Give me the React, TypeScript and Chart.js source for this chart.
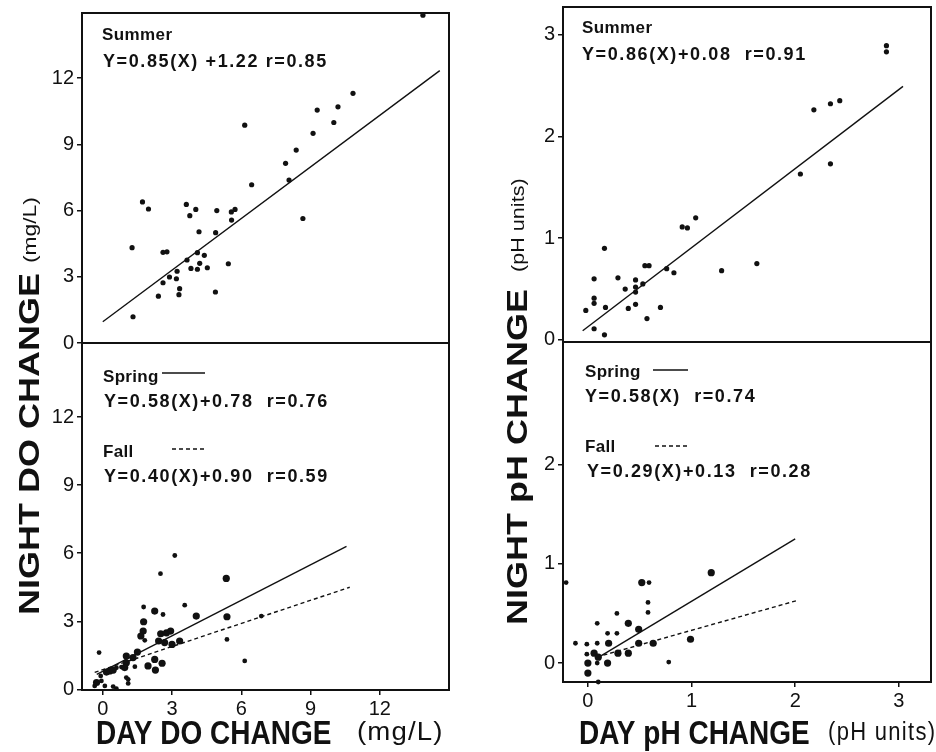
import React, { useEffect, useRef } from "react";
import { Chart, registerables } from "chart.js";

Chart.register(...registerables);

const FONT = "'Liberation Sans', Arial, Helvetica, sans-serif";

// ---------------- DO panels (mg/L) ----------------
const doSummerX = [13.87, 10.84, 9.29, 10.19, 10.01, 9.11, 6.15, 8.38, 7.92, 8.07, 6.45, 8.67, 1.72, 1.98, 3.62, 4.03, 3.77, 4.94, 5.57, 5.73, 5.58, 4.17, 4.89, 1.27, 2.61, 2.78, 4.1, 4.4, 3.65, 4.2, 3.82, 4.1, 4.53, 5.44, 3.22, 2.89, 3.19, 2.61, 3.33, 3.3, 4.88, 2.41, 1.31];
const doSummerY = [14.85, 11.31, 10.55, 10.7, 9.99, 9.5, 9.87, 8.74, 8.14, 7.38, 7.17, 5.64, 6.39, 6.07, 6.28, 6.05, 5.77, 6.0, 5.94, 6.05, 5.57, 5.04, 5.0, 4.32, 4.11, 4.13, 4.09, 3.97, 3.76, 3.61, 3.38, 3.34, 3.41, 3.59, 3.25, 2.99, 2.91, 2.73, 2.46, 2.19, 2.31, 2.12, 1.19];

const doSpringX = [5.35, 2.25, 1.77, 4.05, 5.38, 1.75, 1.65, 2.51, 2.76, 2.94, 2.42, 2.68, 3.0, 3.33, 1.5, 1.02, 1.31, 1.02, 0.3, 0.16, 1.96, 2.25, 2.57, 0.95, 0.45, -0.27, 2.28];
const doSpringY = [4.89, 3.45, 2.98, 3.23, 3.2, 2.57, 2.35, 2.45, 2.49, 2.57, 2.13, 2.06, 1.98, 2.13, 1.64, 1.47, 1.4, 1.17, 0.81, 0.76, 1.03, 1.32, 1.15, 0.96, 0.85, 0.3, 0.85];

const doFallX = [3.12, 2.5, 1.77, 2.61, 3.55, 6.87, 1.82, 5.38, -0.16, 0.81, 0.59, 1.39, 6.15, -0.09, 1.02, -0.06, 0.09, 0.45, 0.59, 1.1, 1.1, -0.35];
const doFallY = [5.9, 5.1, 3.63, 3.3, 3.71, 3.23, 2.16, 2.2, 1.62, 0.98, 0.95, 1.0, 1.25, 0.59, 0.52, 0.37, 0.15, 0.12, 0.03, 0.44, 0.26, 0.15];

const doSummerFitX = [0.0, 14.6];
const doSummerFitY = [0.96, 12.34];
const doSpringFitX = [-0.26, 10.56];
const doSpringFitY = [0.66, 6.3];
const doFallFitX = [-0.35, 10.7];
const doFallFitY = [0.75, 4.5];

const doXTicks = [0, 3, 6, 9, 12];
const doTopTicks = [0, 3, 6, 9, 12];
const doBotTicks = [0, 3, 6, 9, 12];

// ---------------- pH panels (pH units) ----------------
const phSummerX = [2.88, 2.88, 2.18, 2.34, 2.43, 2.34, 2.05, 1.04, 0.91, 0.96, 0.16, 0.55, 0.59, 0.76, 0.83, 1.29, 1.63, 0.06, 0.29, 0.46, 0.36, 0.46, 0.53, 0.46, 0.06, 0.06, -0.02, 0.17, 0.39, 0.46, 0.7, 0.57, 0.06, 0.16];
const phSummerY = [2.89, 2.83, 2.26, 2.32, 2.35, 1.73, 1.63, 1.2, 1.11, 1.1, 0.9, 0.73, 0.73, 0.7, 0.66, 0.68, 0.75, 0.6, 0.61, 0.59, 0.5, 0.52, 0.55, 0.47, 0.41, 0.36, 0.29, 0.32, 0.31, 0.35, 0.32, 0.21, 0.11, 0.05];

const phSpringX = [0.2, 0.39, 0.49, 0.49, 0.63, 0.99, 0.06, 0.1, 0.19, 0.0, 0.0, 0.29, 0.39, 0.52, 1.19];
const phSpringY = [0.2, 0.4, 0.34, 0.2, 0.2, 0.24, 0.1, 0.06, 0.0, 0.0, -0.1, 0.1, 0.1, 0.81, 0.91];

const phFallX = [-0.12, -0.01, 0.09, 0.09, 0.28, 0.19, 0.28, 0.58, 0.58, -0.01, 0.09, 0.1, 0.78, -0.21, 0.59];
const phFallY = [0.2, 0.19, 0.2, 0.4, 0.5, 0.3, 0.3, 0.51, 0.61, 0.09, 0.0, -0.19, 0.01, 0.81, 0.81];

const phSummerFitX = [-0.05, 3.04];
const phSummerFitY = [0.09, 2.49];
const phSpringFitX = [0.09, 2.0];
const phSpringFitY = [0.05, 1.25];
const phFallFitX = [0.15, 2.02];
const phFallFitY = [0.08, 0.63];

const phXTicks = [0, 1, 2, 3];
const phTopTicks = [0, 1, 2, 3];
const phBotTicks = [0, 1, 2];

// ---------------- helpers ----------------
const pts = (xs: number[], ys: number[]) => xs.map((x, i) => ({ x, y: ys[i] }));

const INK = "#111";

type Note = {
  kind: "text" | "solid" | "dash";
  panel: "yTop" | "yBot";
  dx: number;
  dy: number;
  text?: string;
  len?: number;
  font?: string;
  ls?: number;
};

type Title = {
  text: string;
  font: string;
  x: number;
  y: number;
  rot: boolean;
  sx: number;
  sy: number;
  ls?: number;
};

const overlayPlugin = {
  id: "overlay",
  beforeDatasetsDraw(chart: any) {
    const ctx = chart.ctx;
    const a = chart.chartArea;
    ctx.save();
    ctx.strokeStyle = INK;
    ctx.lineWidth = 2;
    for (const id of ["yTop", "yBot"]) {
      const s = chart.scales[id];
      ctx.strokeRect(a.left, s.top, a.right - a.left, s.bottom - s.top);
    }
    ctx.restore();
  },
  afterDraw(chart: any, _args: any, opts: any) {
    const ctx = chart.ctx;
    const a = chart.chartArea;
    ctx.save();
    ctx.fillStyle = INK;
    ctx.strokeStyle = INK;
    for (const n of (opts.notes || []) as Note[]) {
      const s = chart.scales[n.panel];
      const x = a.left + n.dx;
      const y = s.top + n.dy;
      if (n.kind === "text") {
        ctx.font = n.font;
        (ctx as any).letterSpacing = `${n.ls || 0}px`;
        ctx.textAlign = "left";
        ctx.textBaseline = "middle";
        ctx.fillText(n.text, x, y);
        (ctx as any).letterSpacing = "0px";
      } else {
        ctx.beginPath();
        ctx.lineWidth = 1.4;
        ctx.setLineDash(n.kind === "dash" ? [4, 3] : []);
        ctx.moveTo(x, y);
        ctx.lineTo(x + (n.len || 0), y);
        ctx.stroke();
        ctx.setLineDash([]);
      }
    }
    for (const t of (opts.titles || []) as Title[]) {
      ctx.save();
      ctx.translate(t.x, t.y);
      if (t.rot) ctx.rotate(-Math.PI / 2);
      ctx.scale(t.sx, t.sy);
      ctx.font = t.font;
      (ctx as any).letterSpacing = `${t.ls || 0}px`;
      ctx.textAlign = "left";
      ctx.textBaseline = "middle";
      ctx.fillText(t.text, 0, 0);
      ctx.restore();
    }
    ctx.restore();
  },
};

type PanelSpec = {
  xMin: number;
  xMax: number;
  xTicks: number[];
  topMin: number;
  topMax: number;
  topTicks: number[];
  botMin: number;
  botMax: number;
  botTicks: number[];
  topWeight: number;
  botWeight: number;
  yAxisWidth: number;
  xAxisHeight: number;
  padTop: number;
  padRight: number;
  summer: { x: number; y: number }[];
  spring: { x: number; y: number }[];
  fall: { x: number; y: number }[];
  summerFit: { x: number; y: number }[];
  springFit: { x: number; y: number }[];
  fallFit: { x: number; y: number }[];
  notes: Note[];
  titles: Title[];
};

function buildConfig(p: PanelSpec): any {
  const tickFont = { family: FONT, size: 20 };
  const yAxis = (min: number, max: number, ticks: number[], weight: number, stackWeight: number) => ({
    type: "linear",
    position: "left",
    stack: "col",
    stackWeight,
    weight,
    min,
    max,
    afterBuildTicks: (s: any) => {
      s.ticks = ticks.map((v) => ({ value: v }));
    },
    afterFit: (s: any) => {
      s.width = p.yAxisWidth;
      s.paddingTop = 0;
      s.paddingBottom = 0;
    },
    border: { display: false },
    grid: { drawOnChartArea: false, drawTicks: true, tickLength: 5, color: INK, lineWidth: 1.5 },
    ticks: { color: INK, font: tickFont, padding: 3, callback: (v: any) => String(v) },
  });

  const scatter = (data: any[], r: number, axis: string) => ({
    type: "scatter",
    data,
    yAxisID: axis,
    pointRadius: r,
    pointHoverRadius: r,
    pointBackgroundColor: INK,
    pointBorderWidth: 0,
    showLine: false,
    clip: false,
  });
  const fit = (data: any[], axis: string, dash: number[]) => ({
    type: "scatter",
    data,
    yAxisID: axis,
    showLine: true,
    pointRadius: 0,
    borderColor: INK,
    borderWidth: 1.4,
    borderDash: dash,
    fill: false,
    clip: false,
  });

  return {
    type: "scatter",
    data: {
      datasets: [
        scatter(p.summer, 2.6, "yTop"),
        fit(p.summerFit, "yTop", []),
        scatter(p.spring, 3.6, "yBot"),
        scatter(p.fall, 2.4, "yBot"),
        fit(p.springFit, "yBot", []),
        fit(p.fallFit, "yBot", [4, 3]),
      ],
    },
    options: {
      responsive: false,
      animation: false,
      devicePixelRatio: 1,
      layout: { padding: { top: p.padTop, right: p.padRight, left: 0, bottom: 0 } },
      plugins: {
        legend: { display: false },
        tooltip: { enabled: false },
        overlay: { notes: p.notes, titles: p.titles },
      },
      scales: {
        x: {
          type: "linear",
          position: "bottom",
          min: p.xMin,
          max: p.xMax,
          afterBuildTicks: (s: any) => {
            s.ticks = p.xTicks.map((v) => ({ value: v }));
          },
          afterFit: (s: any) => {
            s.height = p.xAxisHeight;
            s.paddingLeft = 0;
            s.paddingRight = 0;
          },
          border: { display: false },
          grid: { drawOnChartArea: false, drawTicks: true, tickLength: 5, color: INK, lineWidth: 1.5 },
          ticks: { color: INK, font: tickFont, padding: 2, maxRotation: 0, callback: (v: any) => String(v) },
        },
        yBot: yAxis(p.botMin, p.botMax, p.botTicks, 1, p.botWeight),
        yTop: yAxis(p.topMin, p.topMax, p.topTicks, 2, p.topWeight),
      },
    },
    plugins: [overlayPlugin],
  };
}

const labelFont = `bold 17px ${FONT}`;
const eqFont = `bold 18px ${FONT}`;

const doSpec: PanelSpec = {
  xMin: -0.9,
  xMax: 15,
  xTicks: doXTicks,
  topMin: 0,
  topMax: 14.95,
  topTicks: doTopTicks,
  botMin: -0.03,
  botMax: 15.27,
  botTicks: doBotTicks,
  topWeight: 330,
  botWeight: 347,
  yAxisWidth: 82,
  xAxisHeight: 62,
  padTop: 13,
  padRight: 19,
  summer: pts(doSummerX, doSummerY),
  spring: pts(doSpringX, doSpringY),
  fall: pts(doFallX, doFallY),
  summerFit: pts(doSummerFitX, doSummerFitY),
  springFit: pts(doSpringFitX, doSpringFitY),
  fallFit: pts(doFallFitX, doFallFitY),
  notes: [
    { kind: "text", panel: "yTop", dx: 20, dy: 22, text: "Summer", font: labelFont, ls: 0.4 },
    { kind: "text", panel: "yTop", dx: 21, dy: 49, text: "Y=0.85(X) +1.22 r=0.85", font: eqFont, ls: 1.6 },
    { kind: "text", panel: "yBot", dx: 21, dy: 34, text: "Spring", font: labelFont, ls: 0.3 },
    { kind: "solid", panel: "yBot", dx: 80, dy: 30, len: 43 },
    { kind: "text", panel: "yBot", dx: 22, dy: 59, text: "Y=0.58(X)+0.78  r=0.76", font: eqFont, ls: 1.6 },
    { kind: "text", panel: "yBot", dx: 21, dy: 109, text: "Fall", font: labelFont, ls: 0.3 },
    { kind: "dash", panel: "yBot", dx: 90, dy: 106, len: 35 },
    { kind: "text", panel: "yBot", dx: 22, dy: 134, text: "Y=0.40(X)+0.90  r=0.59", font: eqFont, ls: 1.6 },
  ],
  titles: [
    { text: "NIGHT DO CHANGE", font: `bold 30px ${FONT}`, x: 31, y: 615, rot: true, sx: 1.2, sy: 1 },
    { text: "(mg/L)", font: `19px ${FONT}`, x: 31, y: 263, rot: true, sx: 1.2, sy: 1 },
    { text: "DAY DO CHANGE", font: `bold 28px ${FONT}`, x: 96, y: 735, rot: false, sx: 1, sy: 1.2 },
    { text: "(mg/L)", font: `24px ${FONT}`, x: 357, y: 733, rot: false, sx: 1.15, sy: 1.1, ls: 1 },
  ],
};

const phSpec: PanelSpec = {
  xMin: -0.24,
  xMax: 3.31,
  xTicks: phXTicks,
  topMin: -0.02,
  topMax: 3.27,
  topTicks: phTopTicks,
  botMin: -0.19,
  botMax: 3.23,
  botTicks: phBotTicks,
  topWeight: 335,
  botWeight: 340,
  yAxisWidth: 95,
  xAxisHeight: 70,
  padTop: 7,
  padRight: 5,
  summer: pts(phSummerX, phSummerY),
  spring: pts(phSpringX, phSpringY),
  fall: pts(phFallX, phFallY),
  summerFit: pts(phSummerFitX, phSummerFitY),
  springFit: pts(phSpringFitX, phSpringFitY),
  fallFit: pts(phFallFitX, phFallFitY),
  notes: [
    { kind: "text", panel: "yTop", dx: 19, dy: 21, text: "Summer", font: labelFont, ls: 0.4 },
    { kind: "text", panel: "yTop", dx: 19, dy: 48, text: "Y=0.86(X)+0.08  r=0.91", font: eqFont, ls: 1.6 },
    { kind: "text", panel: "yBot", dx: 22, dy: 30, text: "Spring", font: labelFont, ls: 0.3 },
    { kind: "solid", panel: "yBot", dx: 90, dy: 28, len: 35 },
    { kind: "text", panel: "yBot", dx: 22, dy: 55, text: "Y=0.58(X)  r=0.74", font: eqFont, ls: 1.6 },
    { kind: "text", panel: "yBot", dx: 22, dy: 105, text: "Fall", font: labelFont, ls: 0.3 },
    { kind: "dash", panel: "yBot", dx: 92, dy: 104, len: 34 },
    { kind: "text", panel: "yBot", dx: 24, dy: 130, text: "Y=0.29(X)+0.13  r=0.28", font: eqFont, ls: 1.6 },
  ],
  titles: [
    { text: "NIGHT pH CHANGE", font: `bold 30px ${FONT}`, x: 51, y: 625, rot: true, sx: 1.2, sy: 1 },
    { text: "(pH units)", font: `18px ${FONT}`, x: 51, y: 272, rot: true, sx: 1.2, sy: 1 },
    { text: "DAY pH CHANGE", font: `bold 28px ${FONT}`, x: 111, y: 735, rot: false, sx: 1, sy: 1.2 },
    { text: "(pH units)", font: `22px ${FONT}`, x: 360, y: 733, rot: false, sx: 1, sy: 1.15, ls: 1.3 },
  ],
};

function PanelChart({ spec, left }: { spec: PanelSpec; left: number }) {
  const ref = useRef<HTMLCanvasElement | null>(null);
  useEffect(() => {
    if (!ref.current) return;
    const chart = new Chart(ref.current, buildConfig(spec));
    return () => chart.destroy();
  }, [spec]);
  return (
    <canvas
      ref={ref}
      width={468}
      height={752}
      style={{ position: "absolute", left, top: 0, width: 468, height: 752 }}
    />
  );
}

export default function App() {
  return (
    <div style={{ position: "absolute", left: 0, top: 0, width: 936, height: 752, background: "#fff" }}>
      <PanelChart spec={doSpec} left={0} />
      <PanelChart spec={phSpec} left={468} />
    </div>
  );
}
